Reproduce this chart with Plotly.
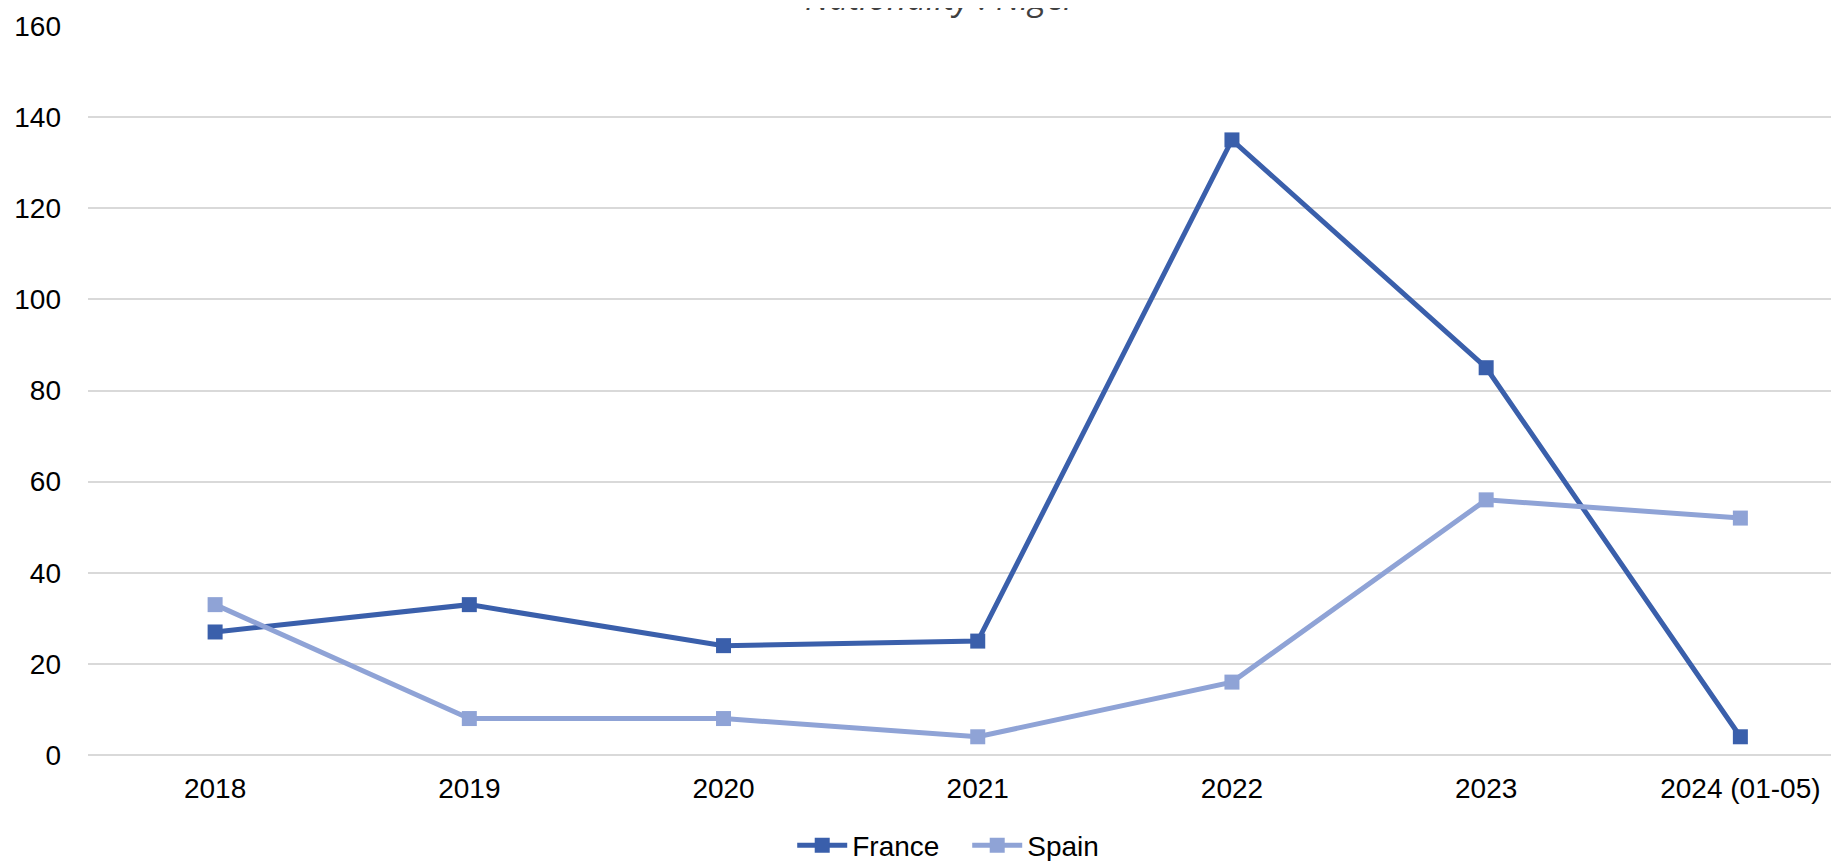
import plotly.graph_objects as go

categories = ["2018", "2019", "2020", "2021", "2022", "2023", "2024 (01-05)"]
france = [27, 33, 24, 25, 135, 85, 4]
spain = [33, 8, 8, 4, 16, 56, 52]
y_ticks = [0, 20, 40, 60, 80, 100, 120, 140, 160]

FONT = "Liberation Sans, Arial, sans-serif"
C_FR = "#3A5FAB"
C_ES = "#8FA3D6"

fig = go.Figure()
fig.add_trace(go.Scatter(x=categories, y=france, name="France", mode="lines+markers",
                         line=dict(color=C_FR, width=5),
                         marker=dict(symbol="square", size=15, color=C_FR)))
fig.add_trace(go.Scatter(x=categories, y=spain, name="Spain", mode="lines+markers",
                         line=dict(color=C_ES, width=5),
                         marker=dict(symbol="square", size=15, color=C_ES)))

# page body has an 8px margin; figure sized to end exactly at window edges
W, H = 1831, 853
ml, mr, mt, mb = 79.5, 0, 17.8, 105.7
ph = H - mt - mb

fig.update_layout(
    width=W, height=H,
    margin=dict(l=ml, r=mr, t=mt, b=mb, pad=0, autoexpand=False),
    paper_bgcolor="white", plot_bgcolor="white",
    font=dict(family=FONT, size=28, color="#000000"),
    showlegend=True,
    legend=dict(orientation="h", xref="container", yref="container",
                x=0.4283, xanchor="left", y=1 - 837.6 / H, yanchor="middle",
                font=dict(size=28, color="#000000"), itemwidth=50,
                entrywidth=110, entrywidthmode="pixels",
                bgcolor="rgba(0,0,0,0)"),
    xaxis=dict(type="category", range=[-0.5, 6.388], showgrid=False, zeroline=False,
               showline=False, ticks="", ticklabelstandoff=14,
               tickfont=dict(size=28, color="#000000")),
    yaxis=dict(range=[0, 160], tickvals=y_ticks, showgrid=True, gridcolor="#D9D9D9",
               gridwidth=1.5, zeroline=True, zerolinecolor="#D9D9D9", zerolinewidth=1.5,
               showline=False, ticks="", ticklabelstandoff=26,
               tickfont=dict(size=28, color="#000000")),
    annotations=[dict(text="<i>Nationality : Niger</i>", xref="paper", yref="paper",
                      x=(933 - ml) / (W - ml), y=1 + (mt - 13.5) / ph, xanchor="center", yanchor="bottom",
                      showarrow=False, font=dict(size=34, color="#404040", family="Open Sans, sans-serif"))],
)

fig.write_html("out.html")
